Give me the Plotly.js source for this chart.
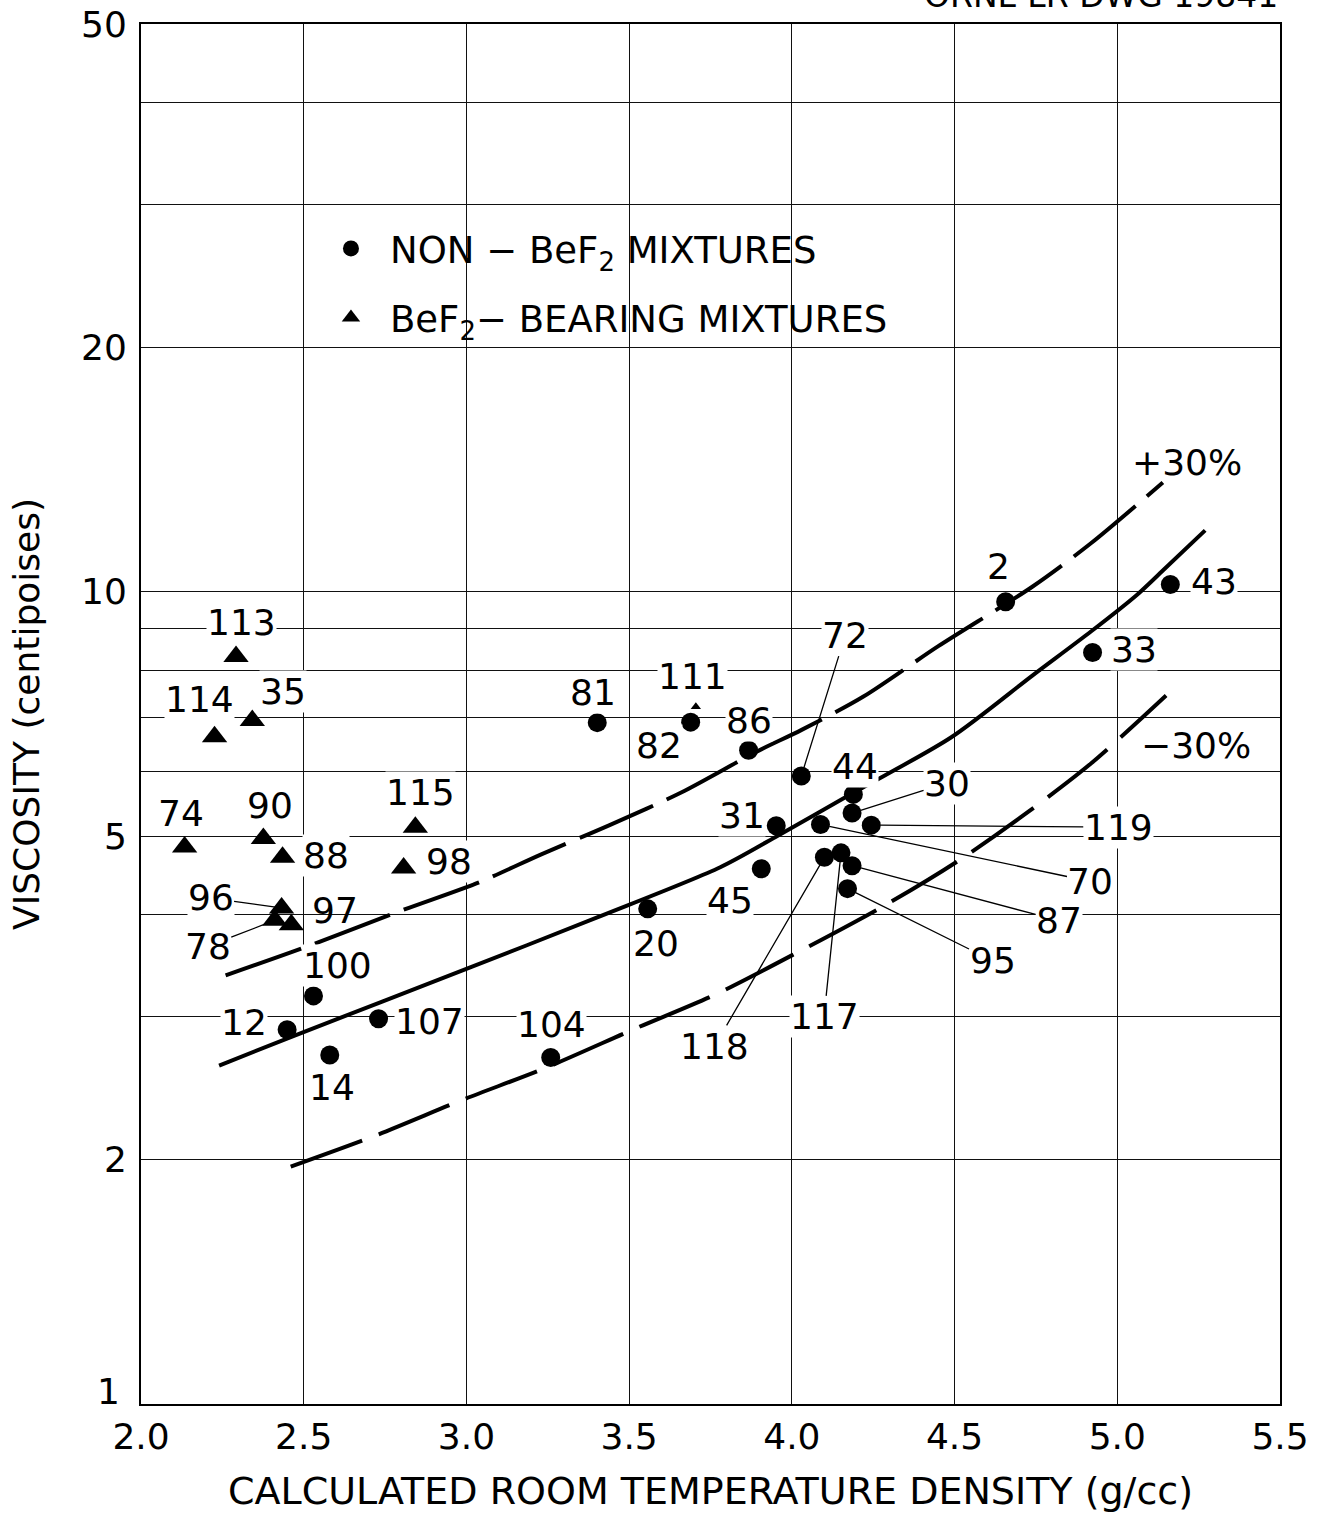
<!DOCTYPE html>
<html>
<head>
<meta charset="utf-8">
<script src="https://cdn.plot.ly/plotly-3.0.1.min.js"></script>
<style>
  html, body { margin: 0; padding: 0; background: #fff; }
  #chart { width: 1319px; height: 1520px; }
</style>
</head>
<body>
<div id="chart"></div>
<script>
// Non-BeF2 mixtures (filled circles)
const circleIds = ['2', '43', '33', '81', '82', '86', '72', '44', '30', '31', '70', '119',
                   '45', '118', '117', '87', '95', '20', '100', '12', '107', '14', '104'];
const circleDensity = [4.657, 5.163, 4.924, 3.402, 3.689, 3.867, 4.029, 4.189, 4.185, 3.952, 4.088, 4.244,
                       3.906, 4.100, 4.151, 4.185, 4.171, 3.557, 2.530, 2.449, 2.730, 2.580, 3.259];
const circleViscosity = [9.72, 10.21, 8.42, 6.90, 6.91, 6.38, 5.93, 5.63, 5.34, 5.15, 5.17, 5.16,
                         4.56, 4.71, 4.77, 4.60, 4.31, 4.07, 3.18, 2.89, 2.98, 2.69, 2.67];

// BeF2-bearing mixtures (filled triangles)
const triangleIds = ['113', '114', '35', '74', '90', '88', '115', '98', '96', '78', '97', '111'];
const triangleDensity = [2.292, 2.226, 2.342, 2.134, 2.376, 2.435, 2.843, 2.807, 2.432, 2.411, 2.462, 3.705];
const triangleViscosity = [8.32, 6.63, 6.94, 4.85, 4.97, 4.71, 5.13, 4.57, 4.08, 3.94, 3.89, 7.22];

// Correlation curve and its +30% / -30% bands
const fitDensity = [2.24, 2.47, 2.99, 3.40, 3.78, 3.95, 4.19, 4.49, 4.74, 4.92, 5.06, 5.14, 5.27];
const fitViscosity = [2.61, 2.84, 3.42, 3.97, 4.58, 4.99, 5.66, 6.62, 7.89, 8.94, 9.91, 10.62, 11.9];
const upperDensity = [2.26, 2.52, 2.80, 3.04, 3.23, 3.44, 3.66, 3.89, 4.03, 4.22, 4.45, 4.74, 4.92, 5.14];
const upperViscosity = [3.37, 3.67, 4.05, 4.39, 4.75, 5.16, 5.66, 6.35, 6.76, 7.43, 8.57, 10.15, 11.48, 13.63];
const lowerDensity = [2.46, 2.72, 2.99, 3.24, 3.52, 3.77, 4.03, 4.29, 4.51, 4.71, 4.92, 5.15];
const lowerViscosity = [1.96, 2.14, 2.37, 2.59, 2.90, 3.20, 3.62, 4.12, 4.66, 5.30, 6.15, 7.45];

// Axis ticks
const xTickVals = [2.0, 2.5, 3.0, 3.5, 4.0, 4.5, 5.0, 5.5];
const xTickText = ['2.0', '2.5', '3.0', '3.5', '4.0', '4.5', '5.0', '5.5'];
const yTickVals = [1, 2, 5, 10, 20, 50];
const yTickText = ['1', '2', '5', '10', '20', '50'];
const yGridOnly = [3, 4, 6, 7, 8, 9, 30, 40];

const FONT = 'DejaVu Sans, Liberation Sans, sans-serif';
const INK = '#000000';

// Label placement, in pixels from the point (right / down positive)
const labelOffset = {
  '2': [-7, -35], '43': [44, -3], '33': [41, -3], '81': [-4, -30], '82': [-32, 23],
  '86': [0, -30], '44': [2, -28], '31': [-34, -10], '45': [-31, 32], '20': [8, 35],
  '100': [24, -30], '12': [-43, -7], '107': [51, 3], '14': [2, 33], '104': [1, -33],
  '113': [5, -34], '114': [-15, -37], '35': [31, -29], '74': [-4, -34], '90': [7, -33],
  '88': [43, -2], '115': [5, -35], '98': [45, -6], '97': [44, -14], '111': [-3, -30]
};
// Labels tied to their point with a thin leader line
const leaderOffset = {
  '72': [44, -141], '30': [95, -30], '119': [247, 2], '70': [270, 57], '87': [207, 55],
  '95': [145, 72], '118': [-110, 189], '117': [-17, 164], '96': [-71, -10], '78': [-67, 26]
};
const unbacked = new Set(['97']);

const annotations = [];
function addLabels(ids, xs, ys, isTriangle) {
  ids.forEach((id, i) => {
    const base = {
      x: xs[i], y: Math.log10(ys[i]), xref: 'x', yref: 'y', text: id,
      font: { family: FONT, size: 36, color: INK },
      bgcolor: unbacked.has(id) ? 'rgba(0,0,0,0)' : '#ffffff',
      borderpad: 0
    };
    if (leaderOffset[id]) {
      const [dx, dy] = leaderOffset[id];
      annotations.push(Object.assign(base, {
        showarrow: true, arrowhead: 0, arrowwidth: 1.3, arrowcolor: INK,
        ax: dx, ay: dy, standoff: isTriangle ? 6 : 9
      }));
    } else {
      const [dx, dy] = labelOffset[id];
      annotations.push(Object.assign(base, { showarrow: false, xshift: dx, yshift: -dy }));
    }
  });
}
addLabels(circleIds, circleDensity, circleViscosity, false);
addLabels(triangleIds, triangleDensity, triangleViscosity, true);

// Band labels at the upper ends of the dashed curves
annotations.push({
  x: upperDensity[upperDensity.length - 1], y: Math.log10(upperViscosity[upperViscosity.length - 1]),
  xref: 'x', yref: 'y', text: '+30%', showarrow: false, xshift: 24, yshift: 20,
  font: { family: FONT, size: 36, color: INK }
});
annotations.push({
  x: lowerDensity[lowerDensity.length - 1], y: Math.log10(lowerViscosity[lowerViscosity.length - 1]),
  xref: 'x', yref: 'y', text: '\u221230%', showarrow: false, xshift: 30, yshift: -50,
  font: { family: FONT, size: 36, color: INK }
});
// Bottom viscosity label, set just above the lower-left corner so it clears the 2.0 label
annotations.push({
  x: 0, y: Math.log10(yTickVals[0]), xref: 'paper', yref: 'y', xanchor: 'right',
  text: yTickText[0], showarrow: false, xshift: -19, yshift: 13,
  font: { family: FONT, size: 36, color: INK }
});
// Drawing number
annotations.push({
  x: 1, y: 1, xref: 'paper', yref: 'paper', xanchor: 'right', yanchor: 'bottom',
  text: 'ORNL-LR-DWG 19841', showarrow: false, yshift: 7,
  font: { family: FONT, size: 33, color: INK }
});

const hidden = { showlegend: false, hoverinfo: 'skip' };
const traces = [
  Object.assign({
    x: fitDensity, y: fitViscosity, mode: 'lines', type: 'scatter',
    line: { color: INK, width: 4, shape: 'spline', smoothing: 0.8 }
  }, hidden),
  Object.assign({
    x: upperDensity, y: upperViscosity, mode: 'lines', type: 'scatter',
    line: { color: INK, width: 4, shape: 'spline', smoothing: 0.8, dash: '80px,15px' }
  }, hidden),
  Object.assign({
    x: lowerDensity, y: lowerViscosity, mode: 'lines', type: 'scatter',
    line: { color: INK, width: 4, shape: 'spline', smoothing: 0.8, dash: '76px,18px' }
  }, hidden),
  {
    x: circleDensity, y: circleViscosity, text: circleIds, type: 'scatter', mode: 'markers',
    name: 'NON \u2212 BeF<sub>2</sub> MIXTURES', legendgroup: 'circles',
    marker: { symbol: 'circle', size: 19, color: INK, opacity: 1, line: { width: 0 } }
  },
  {
    x: triangleDensity, y: triangleViscosity, text: triangleIds, type: 'scatter', mode: 'markers',
    name: 'BeF<sub>2</sub>\u2212 BEARING MIXTURES', legendgroup: 'triangles',
    marker: {
      symbol: 'triangle-up', color: INK, opacity: 1, line: { width: 0 },
      size: triangleIds.map(id => (id === '111' ? 9 : 22))
    }
  }
];

const gridStyle = { showgrid: true, gridcolor: '#111111', gridwidth: 1.2 };
const layout = {
  width: 1319, height: 1520,
  margin: { l: 141, r: 39, t: 24, b: 116 },
  paper_bgcolor: '#ffffff', plot_bgcolor: '#ffffff',
  font: { family: FONT, size: 35, color: INK },
  showlegend: true,
  legend: {
    x: 0.1501, y: 0.8595, xanchor: 'left', yanchor: 'top',
    bgcolor: 'rgba(0,0,0,0)', borderwidth: 0,
    font: { family: FONT, size: 37, color: INK },
    itemwidth: 68, tracegroupgap: 18, traceorder: 'grouped', itemsizing: 'trace'
  },
  xaxis: Object.assign({
    range: [2, 5.5], tickmode: 'array', tickvals: xTickVals, ticktext: xTickText,
    ticks: '', ticklabelstandoff: 0,
    showline: true, mirror: true, linecolor: INK, linewidth: 2, zeroline: false,
    tickfont: { family: FONT, size: 36, color: INK },
    title: { text: 'CALCULATED ROOM TEMPERATURE DENSITY (g/cc)', font: { family: FONT, size: 38, color: INK }, standoff: 21 }
  }, gridStyle),
  yaxis: Object.assign({
    type: 'log', range: [0, Math.log10(50)], tickmode: 'array',
    tickvals: yTickVals.slice(1), ticktext: yTickText.slice(1),
    ticks: '', ticklabelstandoff: 5,
    minor: { tickmode: 'array', tickvals: yGridOnly, showgrid: true, gridcolor: '#111111', gridwidth: 1.2, ticks: '' },
    showline: true, mirror: true, linecolor: INK, linewidth: 2, zeroline: false,
    tickfont: { family: FONT, size: 36, color: INK },
    title: { text: 'VISCOSITY (centipoises)', font: { family: FONT, size: 36, color: INK }, standoff: 30 }
  }, gridStyle),
  annotations: annotations
};

Plotly.newPlot('chart', traces, layout, { displayModeBar: false, responsive: false });
</script>
</body>
</html>
